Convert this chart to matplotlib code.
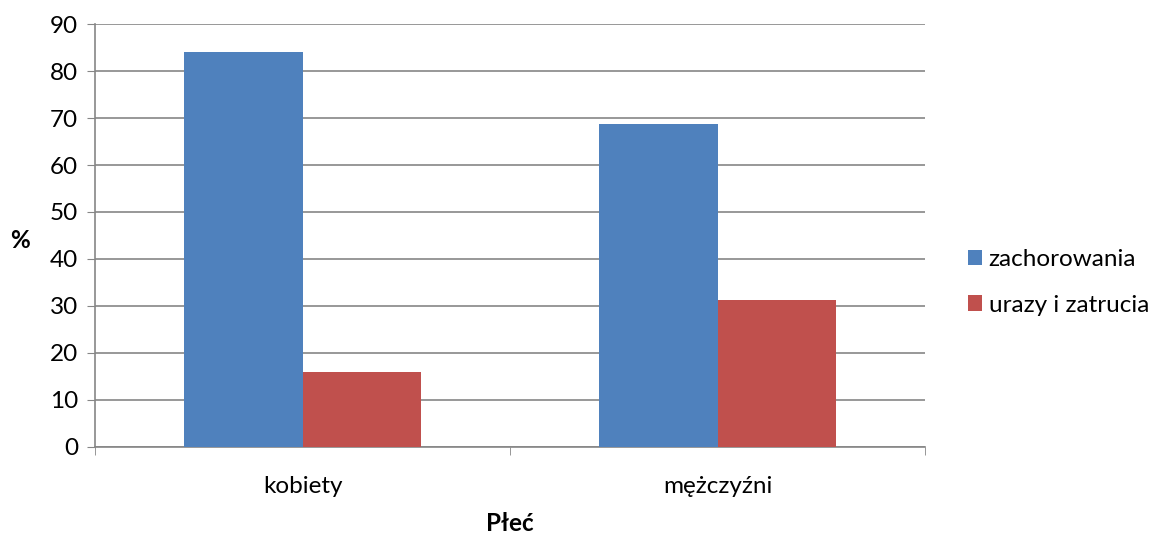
import matplotlib.pyplot as plt
import numpy as np

categories = ["kobiety", "mężczyźni"]
series_names = ["zachorowania", "urazy i zatrucia"]
zachorowania = [84.1, 68.7]
urazy = [15.9, 31.3]
colors = ["#4F81BD", "#C0504D"]

plt.rcParams["font.family"] = ["Lato", "DejaVu Sans"]
FS = 17.5

fig = plt.figure(figsize=(11.53, 5.34), dpi=100)
ax = fig.add_axes([0.0824, 0.163, 0.72, 0.792])

x = np.arange(len(categories))
w = 0.285
ax.bar(x - w / 2, zachorowania, w, color=colors[0], label=series_names[0], zorder=3)
ax.bar(x + w / 2, urazy, w, color=colors[1], label=series_names[1], zorder=3)

ax.set_xlim(-0.5, len(categories) - 0.5)
ax.set_ylim(0, 90)
ax.set_yticks(np.arange(0, 91, 10))
ax.set_xticks(x)
ax.set_xticklabels(categories, fontsize=FS)
ax.tick_params(axis="x", length=0, pad=21)
ax.set_xticks(np.arange(-0.5, len(categories), 1.0), minor=True)
ax.tick_params(axis="x", which="minor", length=6, color="#868686", direction="out")
ax.tick_params(axis="y", labelsize=FS, length=6, color="#868686", direction="out", pad=6)
ax.grid(axis="y", color="#868686", linewidth=1.2, zorder=0)

for side in ("top", "right"):
    ax.spines[side].set_visible(False)
for side in ("left", "bottom"):
    ax.spines[side].set_color("#868686")
    ax.spines[side].set_linewidth(1.2)

ax.set_xlabel("Płeć", fontsize=FS, fontweight="bold", labelpad=11)
fig.text(20 / 1153, 1 - 240 / 534, "%", fontsize=FS, fontweight="bold",
         ha="center", va="center")

ax.legend(loc="center left", bbox_to_anchor=(1.052, 0.389), frameon=False, fontsize=FS,
          borderpad=0, borderaxespad=0,
          handlelength=0.58, handleheight=0.58, handletextpad=0.25, labelspacing=1.0)

fig.savefig("out.png", dpi=100)
